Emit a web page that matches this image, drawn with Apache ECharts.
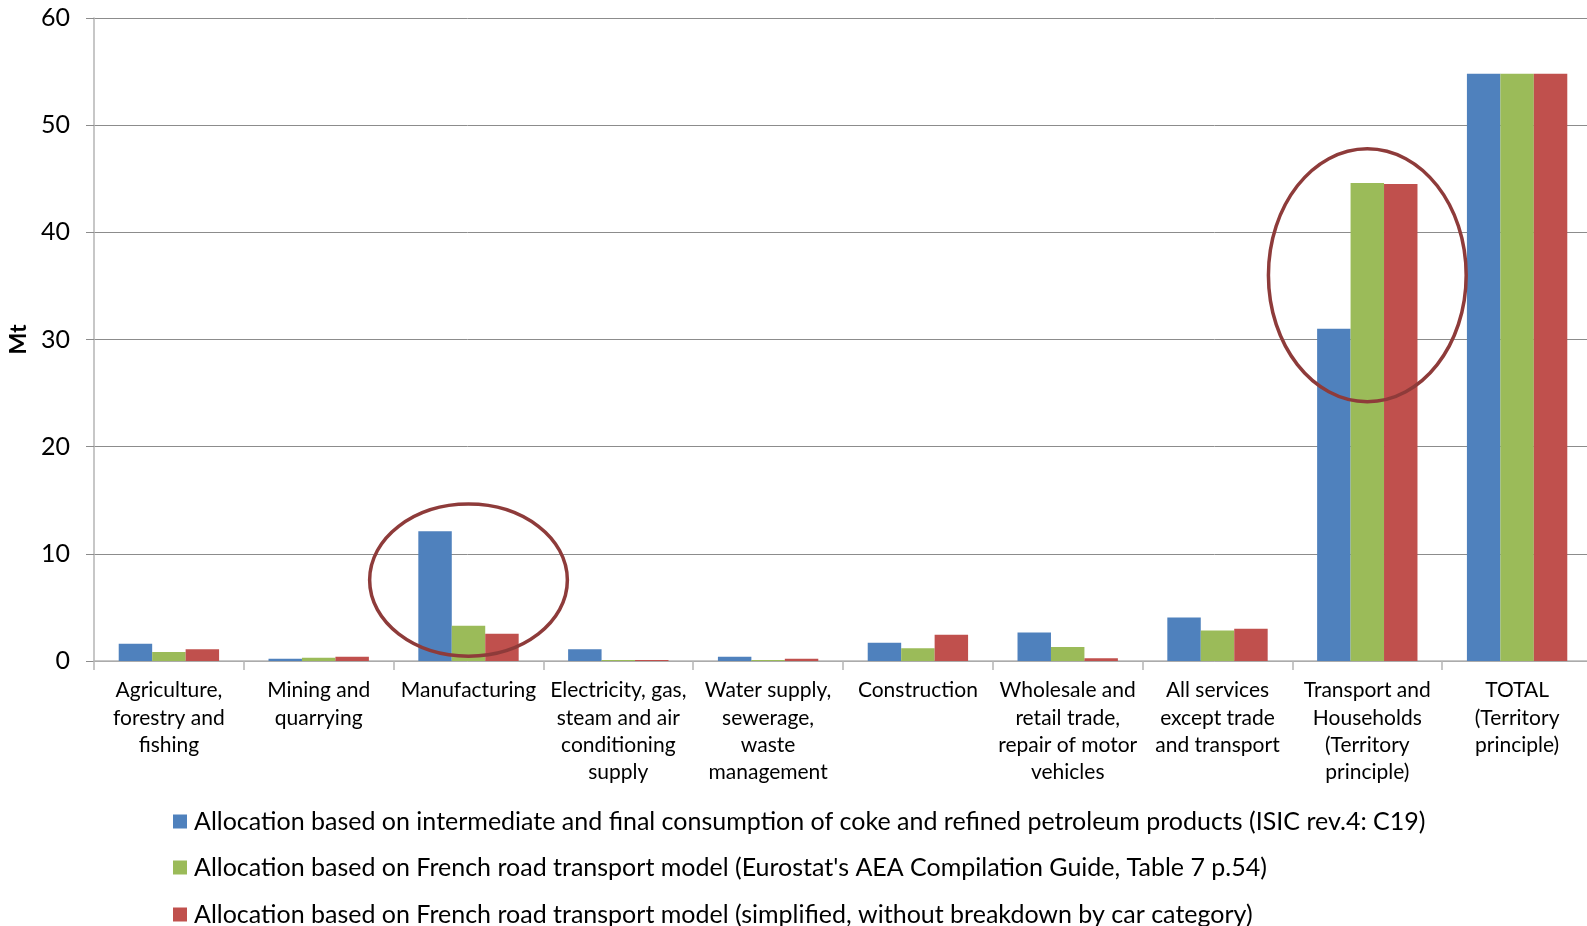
<!DOCTYPE html>
<html>
<head>
<meta charset="utf-8">
<script src="https://cdn.jsdelivr.net/npm/echarts@6/dist/echarts.min.js"></script>
<style>
  html, body { margin: 0; padding: 0; background: #fff; }
  #chart { width: 1587px; height: 926px; }
</style>
</head>
<body>
<div id="chart"></div>
<script>
// Sectors (x axis)
const categories = [
  'Agriculture,\nforestry and\nfishing',
  'Mining and\nquarrying',
  'Manufacturing',
  'Electricity, gas,\nsteam and air\nconditioning\nsupply',
  'Water supply,\nsewerage,\nwaste\nmanagement',
  'Construction',
  'Wholesale and\nretail trade,\nrepair of motor\nvehicles',
  'All services\nexcept trade\nand transport',
  'Transport and\nHouseholds\n(Territory\nprinciple)',
  'TOTAL\n(Territory\nprinciple)'
];

// Emissions in Mt for each allocation method
const seriesNames = [
  'Allocation based on intermediate and final consumption of coke and refined petroleum products (ISIC rev.4: C19)',
  "Allocation based on French road transport model (Eurostat's AEA Compilation Guide, Table 7 p.54)",
  'Allocation based on French road transport model (simplified, without breakdown by car category)'
];
const c19Values        = [1.6, 0.2, 12.1, 1.1, 0.4, 1.7, 2.65, 4.05, 31.0, 54.8];
const roadModelValues  = [0.85, 0.3, 3.3, 0.1, 0.1, 1.2, 1.3, 2.85, 44.6, 54.8];
const simplifiedValues = [1.1, 0.4, 2.55, 0.1, 0.2, 2.45, 0.25, 3.0, 44.5, 54.8];

// Highlight rings: [category index, centre value, half-width in bands, half-height in Mt]
const highlights = [
  [2, 7.55, 0.66, 7.1],
  [8, 36.0, 0.66, 11.8]
];

const colors = ['#4F81BD', '#9BBB59', '#C0504D'];
const font = 'Lato, "Open Sans", sans-serif';

const chart = echarts.init(document.getElementById('chart'));

const barSeries = [c19Values, roadModelValues, simplifiedValues].map((vals, i) => ({
  name: seriesNames[i],
  type: 'bar',
  data: vals,
  barGap: '0%',
  barCategoryGap: '33%',
  itemStyle: { color: colors[i] },
  emphasis: { disabled: true }
}));

// One legend row per series, stacked under the chart
const legendTops = [809, 855, 902];
const legends = seriesNames.map((name, i) => ({
  data: [name],
  orient: 'horizontal',
  left: 173,
  top: legendTops[i],
  padding: 0,
  icon: 'rect',
  itemWidth: 14,
  itemHeight: 14,
  itemGap: 0,
  selectedMode: false,
  textStyle: { fontFamily: font, fontSize: 25, color: '#000', padding: [0, 0, 0, 2] }
}));

chart.setOption({
  animation: false,
  backgroundColor: '#ffffff',
  grid: { left: 94, right: -5, top: 18, bottom: 265, containLabel: false, outerBoundsMode: 'none' },
  legend: legends,
  xAxis: {
    type: 'category',
    data: categories,
    axisLine: { lineStyle: { color: '#b5b5b5', width: 1.5 } },
    axisTick: { show: true, length: 9, lineStyle: { color: '#b5b5b5', width: 1.5 } },
    axisLabel: {
      interval: 0,
      margin: 16,
      fontFamily: font,
      fontSize: 21,
      lineHeight: 27.3,
      color: '#000'
    },
    splitLine: { show: false }
  },
  yAxis: {
    type: 'value',
    min: 0,
    max: 60,
    interval: 10,
    name: 'Mt',
    nameLocation: 'middle',
    nameGap: 63,
    nameRotate: 90,
    nameTextStyle: { fontFamily: font, fontSize: 23, fontWeight: 'bold', color: '#000' },
    axisLine: { show: true, lineStyle: { color: '#b5b5b5', width: 1.5 } },
    axisTick: { show: true, length: 8, lineStyle: { color: '#8c8c8c' } },
    axisLabel: { margin: 24, fontFamily: font, fontSize: 25, color: '#000' },
    splitLine: { show: true, lineStyle: { color: '#8c8c8c', width: 1 } }
  },
  series: barSeries.concat([{
    type: 'custom',
    name: 'highlight',
    z: 10,
    silent: true,
    data: highlights,
    encode: { x: 0, y: 1 },
    renderItem: function (params, api) {
      const c = api.coord([api.value(0), api.value(1)]);
      const band = api.size([1, 1])[0];
      const unit = api.size([1, 1])[1];
      return {
        type: 'ellipse',
        shape: { cx: c[0], cy: c[1], rx: band * api.value(2), ry: unit * api.value(3) },
        style: { fill: 'none', stroke: '#8E3B3A', lineWidth: 3.5 }
      };
    }
  }])
});
</script>
</body>
</html>
